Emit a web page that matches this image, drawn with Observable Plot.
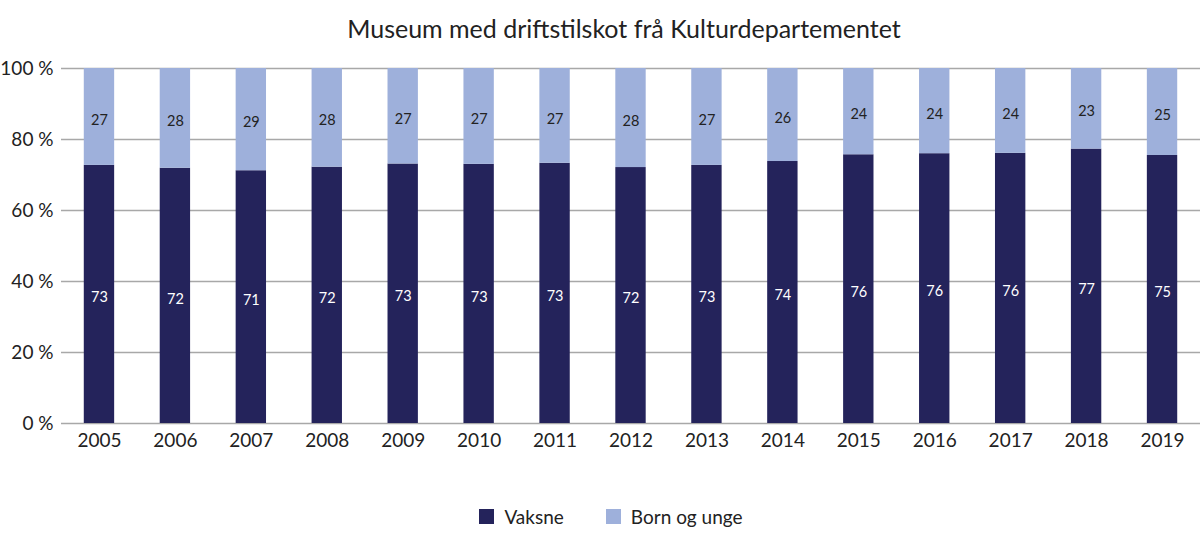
<!DOCTYPE html>
<html>
<head>
<meta charset="utf-8">
<script src="https://cdn.jsdelivr.net/npm/d3@7"></script>
<script src="https://cdn.jsdelivr.net/npm/@observablehq/plot@0.6"></script>
<style>
  body { margin: 0; background: #fff; font-family: Lato, "Open Sans", sans-serif; color: #222; }
  #title { height: 50px; line-height: 57px; text-align: center; font-size: 25px; padding-left: 48px; }
  #legend { display: flex; justify-content: center; gap: 42px; margin-top: 45px; font-size: 19px; margin-left: 22px; }
  #legend span.item { display: flex; align-items: center; }
  #legend span.sw { display: inline-block; width: 15px; height: 15px; margin-right: 10px; }
</style>
</head>
<body>
<div id="title">Museum med driftstilskot frå Kulturdepartementet</div>
<div id="chart"></div>
<div id="legend"></div>
<script>
const years = ["2005","2006","2007","2008","2009","2010","2011","2012","2013","2014","2015","2016","2017","2018","2019"];
const seriesNames = ["Vaksne", "Born og unge"];
const colors = ["#24235b", "#9eb0db"];
// Shares (percent)
const vaksne = [72.7, 71.9, 71.2, 72.2, 73.1, 73.0, 73.3, 72.1, 72.7, 73.8, 75.7, 76.0, 76.1, 77.3, 75.5];
const born   = [27.3, 28.1, 28.8, 27.8, 26.9, 27.0, 26.7, 27.9, 27.3, 26.2, 24.3, 24.0, 23.9, 22.7, 24.5];
// Printed labels
const vaksneLabels = [73, 72, 71, 72, 73, 73, 73, 72, 73, 74, 76, 76, 76, 77, 75];
const bornLabels   = [27, 28, 29, 28, 27, 27, 27, 28, 27, 26, 24, 24, 24, 23, 25];
const yTicks = [0, 20, 40, 60, 80, 100];

const data = [];
years.forEach((yr, i) => {
  data.push({year: yr, series: seriesNames[0], value: vaksne[i], label: vaksneLabels[i]});
  data.push({year: yr, series: seriesNames[1], value: born[i], label: bornLabels[i]});
});

const chart = Plot.plot({
  width: 1200,
  height: 410,
  marginTop: 18,
  marginBottom: 37,
  marginLeft: 61,
  marginRight: 0,
  style: {fontFamily: "Lato, 'Open Sans', sans-serif", color: "#222", background: "#fff"},
  x: {domain: years, paddingInner: 0.6, paddingOuter: 0.3, round: false, label: null},
  y: {domain: [0, 100], label: null},
  color: {domain: seriesNames, range: colors},
  marks: [
    Plot.gridY(yTicks, {stroke: "#a8a8a8", strokeOpacity: 1, strokeWidth: 1.3}),
    Plot.barY(data, Plot.stackY({x: "year", y: "value", z: "series", fill: "series"})),
    Plot.text(data, Plot.stackY({x: "year", y: "value", z: "series", text: "label",
      fill: d => d.series === seriesNames[0] ? "#ffffff" : "#222222", dy: 3, fontSize: 14.5})),
    Plot.axisY({ticks: yTicks, tickFormat: d => d + " %", tickSize: 0, tickPadding: 8, fontSize: 19, label: null}),
    Plot.axisX({tickSize: 0, tickPadding: 10, fontSize: 19, label: null})
  ]
});
document.getElementById("chart").appendChild(chart);

const legend = document.getElementById("legend");
seriesNames.forEach((s, i) => {
  const item = document.createElement("span");
  item.className = "item";
  const sw = document.createElement("span");
  sw.className = "sw";
  sw.style.background = colors[i];
  item.appendChild(sw);
  item.appendChild(document.createTextNode(s));
  legend.appendChild(item);
});
</script>
</body>
</html>
